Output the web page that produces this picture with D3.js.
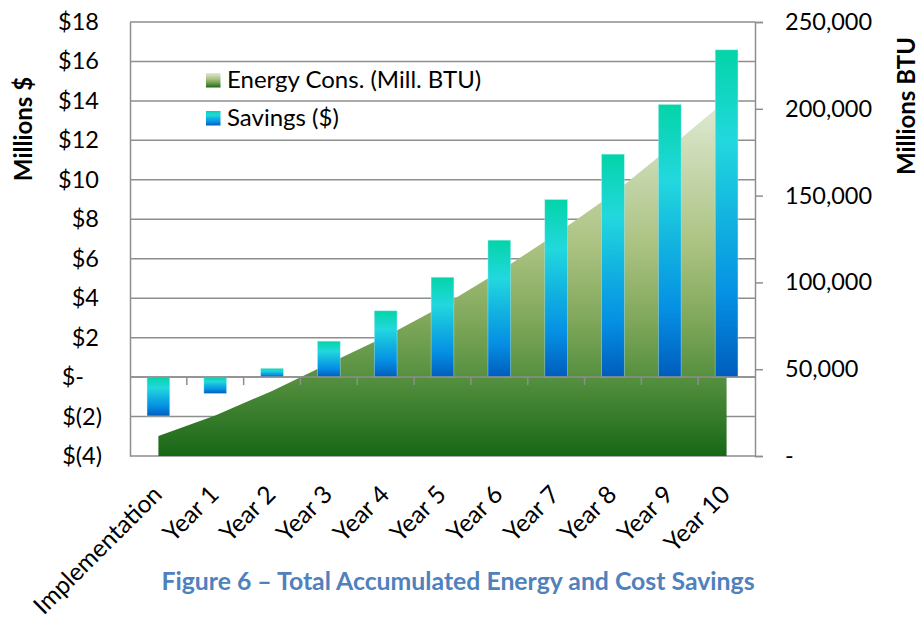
<!DOCTYPE html>
<html><head><meta charset="utf-8">
<script src="https://cdn.jsdelivr.net/npm/d3@7/dist/d3.min.js"></script>
<style>
body{margin:0;background:#fff;}
text{font-family:Lato, "Open Sans", sans-serif;fill:#000;}
</style>
</head><body>
<svg id="chart" width="919" height="619"></svg>
<script>
// ---- data ----
const categories = ["Implementation","Year 1","Year 2","Year 3","Year 4","Year 5","Year 6","Year 7","Year 8","Year 9","Year 10"];
const savings = [-1.97,-0.83,0.44,1.82,3.36,5.06,6.94,9.0,11.3,13.82,16.59];      // Millions $
const energy = [11500,23300,37500,53300,68800,86400,106300,127900,150900,177600,205000]; // Millions BTU
const leftTicks = [-4,-2,0,2,4,6,8,10,12,14,16,18];
const rightTicks = [0,50000,100000,150000,200000,250000];
const seriesNames = ["Energy Cons. (Mill. BTU)","Savings ($)"];
const axisTitles = ["Millions $","Millions BTU"];
const figureTitle = "Figure 6 \u2013 Total Accumulated Energy and Cost Savings";

// ---- layout ----
const L = 130, R = 755, T = 22, B = 456;
const gridColor = "#8e8e8e";
const tickFont = 23.5;
const svg = d3.select("#chart");

const x = d3.scaleBand().domain(categories).range([L, R]).paddingInner(0).paddingOuter(0);
const yL = d3.scaleLinear().domain([-4, 18]).range([B, T]);
const yR = d3.scaleLinear().domain([0, 250000]).range([B, T]);
const bw = x.bandwidth();
const barW = bw / 2.5;

// gradients
const defs = svg.append("defs");
const ag = defs.append("linearGradient").attr("id","areaGrad").attr("x1",0).attr("y1",0).attr("x2",0).attr("y2",1);
[[0,"#e0ead4"],[0.42,"#a9c17f"],[0.62,"#7fa75a"],[0.78,"#55903f"],[1,"#176716"]].forEach(s=>
  ag.append("stop").attr("offset",s[0]).attr("stop-color",s[1]));
const bg = defs.append("linearGradient").attr("id","barGrad").attr("x1",0).attr("y1",0).attr("x2",0).attr("y2",1);
[[0,"#03d4a8"],[0.28,"#22d8de"],[0.52,"#12b2e0"],[0.75,"#0590e4"],[1,"#005cbc"]].forEach(s=>
  bg.append("stop").attr("offset",s[0]).attr("stop-color",s[1]));

// horizontal gridlines (left axis)
svg.append("g").selectAll("line").data(leftTicks).join("line")
  .attr("x1", L).attr("x2", R).attr("y1", d=>yL(d)).attr("y2", d=>yL(d))
  .attr("stroke", gridColor).attr("stroke-width", 1.5);

// area
const area = d3.area()
  .x((d,i)=>x(categories[i]) + bw/2)
  .y0(yR(0))
  .y1(d=>yR(d));
svg.append("path").datum(energy).attr("d", area).attr("fill","url(#areaGrad)");

// bars
svg.append("g").selectAll("rect").data(savings).join("rect")
  .attr("x", (d,i)=>x(categories[i]) + (bw - barW)/2)
  .attr("width", barW)
  .attr("y", d=>yL(Math.max(0,d)))
  .attr("height", d=>Math.abs(yL(d) - yL(0)))
  .attr("fill","url(#barGrad)")
  .attr("stroke","#b8eef2").attr("stroke-width",0.7).attr("stroke-opacity",0.6);

// category axis at zero
const z = yL(0);
svg.append("line").attr("x1",L).attr("x2",R).attr("y1",z).attr("y2",z)
  .attr("stroke",gridColor).attr("stroke-width",1.5);
svg.append("g").selectAll("line").data(categories.slice(1)).join("line")
  .attr("x1", d=>x(d)).attr("x2", d=>x(d)).attr("y1", z).attr("y2", z+8)
  .attr("stroke",gridColor).attr("stroke-width",1.5);

// left axis
const fmtL = v => v > 0 ? "$" + v : (v === 0 ? "$-" : "$(" + (-v) + ")");
const gL = svg.append("g").attr("transform",`translate(${L},0)`)
  .call(d3.axisLeft(yL).tickValues(leftTicks).tickSize(0).tickFormat(fmtL));
gL.select(".domain").attr("stroke",gridColor).attr("stroke-width",1.5);
gL.selectAll("text").attr("font-size",tickFont).attr("font-family","Lato, sans-serif").attr("fill","#000")
  .attr("x", d => d > 0 ? -31 : (d === 0 ? -46 : -28));

// right axis
const fmtR = v => v === 0 ? "-" : d3.format(",")(v);
const gR = svg.append("g").attr("transform",`translate(${R},0)`)
  .call(d3.axisRight(yR).tickValues(rightTicks).tickSize(8).tickPadding(22).tickFormat(fmtR));
gR.select(".domain").attr("stroke",gridColor).attr("stroke-width",1.5);
gR.selectAll("line").attr("stroke",gridColor).attr("stroke-width",1.5);
gR.selectAll("text").attr("font-size",tickFont).attr("font-family","Lato, sans-serif").attr("fill","#000");

// category labels
svg.append("g").selectAll("text").data(categories).join("text")
  .attr("transform", d=>`translate(${x(d)+bw/2+5},${496}) rotate(-45)`)
  .attr("text-anchor","end").attr("font-size",24.5)
  .text(d=>d);

// axis titles
svg.append("text").attr("transform",`translate(32,129) rotate(-90)`)
  .attr("text-anchor","middle").attr("font-size",24).attr("font-weight","bold").text(axisTitles[0]);
svg.append("text").attr("transform",`translate(915,106) rotate(-90)`)
  .attr("text-anchor","middle").attr("font-size",24).attr("font-weight","bold").text(axisTitles[1]);

// legend
const leg = svg.append("g");
const legFills = ["url(#areaGrad)","url(#barGrad)"];
const legY = [80, 118];
seriesNames.forEach((n,i)=>{
  leg.append("rect").attr("x",206).attr("y",legY[i]-7).attr("width",14.5).attr("height",14.5).attr("fill",legFills[i]);
  leg.append("text").attr("x",227).attr("y",legY[i]).attr("dy","0.35em").attr("font-size",24).text(n);
});

// figure title
svg.append("text").attr("x",458).attr("y",590).attr("text-anchor","middle")
  .attr("font-size",24.8).attr("font-weight","bold").style("fill","#4f81bd").text(figureTitle);
</script>
</body></html>
